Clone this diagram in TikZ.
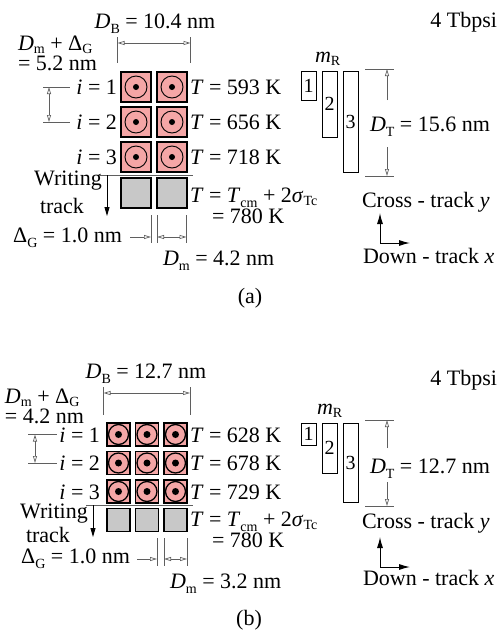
\documentclass[tikz,border=0pt]{standalone}
\usepackage{fontspec}
\setmainfont{Liberation Serif}
\usetikzlibrary{arrows.meta}
\definecolor{cellpink}{RGB}{244,166,166}
\definecolor{cellgray}{RGB}{200,200,200}
\definecolor{dimgray}{RGB}{95,95,95}
\newcommand{\sbs}[1]{\raisebox{-5pt}{\fontsize{14}{14}\selectfont #1}}
\newcommand{\sbh}[1]{\raisebox{-3pt}{\fontsize{14}{14}\selectfont #1}}
\newcommand{\vv}[1]{\textit{#1}}
\begin{document}
\begin{tikzpicture}[x=1pt,y=-1pt,
  every node/.style={inner sep=0pt, outer sep=0pt, font=\fontsize{22}{26}\selectfont},
  lbl/.style={},
  cellA/.style={draw, line width=1.1pt, fill=cellpink, minimum size=30pt},
  cellB/.style={draw, line width=1.1pt, fill=cellpink, minimum size=23pt},
  grayA/.style={draw, line width=1.1pt, fill=cellgray, minimum size=30pt},
  grayB/.style={draw, line width=1.1pt, fill=cellgray, minimum size=23pt},
  ring/.style={line width=0.9pt},
  mbox/.style={draw, line width=0.9pt, minimum width=15pt, anchor=north west, font=\fontsize{20}{22}\selectfont},
  extline/.style={draw=dimgray, line width=0.7pt},
  dimarrow/.style={draw=dimgray, line width=0.7pt, -{Triangle[open,length=7pt,width=4pt]}},
  dimboth/.style={draw=dimgray, line width=0.7pt, {Triangle[open,length=7pt,width=4pt]}-{Triangle[open,length=7pt,width=4pt]}},
  sepline/.style={draw=dimgray, line width=0.7pt},
  blkarrow/.style={draw=black, line width=0.8pt, -{Triangle[length=9pt,width=5pt]}},
  axarrow/.style={draw=black, line width=1pt, -{Latex[length=11pt,width=6pt]}}
]
\useasboundingbox (0,0) rectangle (498,635);

% ================= Panel (a) =================
\node[lbl, anchor=base] (aDB) at (155,28) {\vv{D}\sbs{B} = 10.4 nm};
\node[lbl, anchor=base east] (aTb) at (497,27) {4 Tbpsi};
\node[lbl, anchor=base west] (aDmG1) at (18,50) {\vv{D}\sbh{m} + Δ\sbh{G}};
\node[lbl, anchor=base west] (aDmG2) at (18,70) {= 5.2 nm};

% cells
\foreach \r/\y in {1/87,2/122,3/157}{
  \foreach \c/\x in {1/136,2/172}{
    \node[cellA] (a\r\c) at (\x,\y) {};
    \draw[ring] (a\r\c.center) circle (11pt);
    \fill (a\r\c.center) circle (3pt);
  }
}
\node[grayA] (ag1) at (136,193) {};
\node[grayA] (ag2) at (172,193) {};

% row labels
\node[lbl, anchor=base east] (ai1) at (117,94.5) {\vv{i} = 1};
\node[lbl, anchor=base east] (ai2) at (117,129.5) {\vv{i} = 2};
\node[lbl, anchor=base east] (ai3) at (117,164.5) {\vv{i} = 3};
\node[lbl, anchor=base west] (aT1) at (190,94.5) {\vv{T} = 593 K};
\node[lbl, anchor=base west] (aT2) at (190,129.5) {\vv{T} = 656 K};
\node[lbl, anchor=base west] (aT3) at (190,164.5) {\vv{T} = 718 K};
\node[lbl, anchor=base west] (aT4) at (190,202) {\vv{T} = \vv{T}\sbs{cm} + 2\vv{σ}\sbh{Tc}};
\node[lbl, anchor=base west] (aT5) at (212,223) {= 780 K};

% D_B dimension
\coordinate (aDBl1) at (117.5,37); \coordinate (aDBl2) at (117.5,63);
\coordinate (aDBr1) at (190.5,37); \coordinate (aDBr2) at (190.5,63);
\coordinate (aDBal) at (117.5,43); \coordinate (aDBar) at (190.5,43);
\draw[extline] (aDBl1) -- (aDBl2);
\draw[extline] (aDBr1) -- (aDBr2);
\draw[dimboth] (aDBal) -- (aDBar);

% left pitch dimension
\coordinate (aPt1) at (43,87); \coordinate (aPt2) at (70,87);
\coordinate (aPb1) at (43,122); \coordinate (aPb2) at (70,122);
\coordinate (aPat) at (49,87); \coordinate (aPab) at (49,122);
\draw[extline] (aPt1) -- (aPt2);
\draw[extline] (aPb1) -- (aPb2);
\draw[dimboth] (aPat) -- (aPab);

% separator and writing track
\coordinate (aS1) at (100,175); \coordinate (aS2) at (193,175);
\draw[sepline] (aS1) -- (aS2);
\coordinate (aW1) at (107,175); \coordinate (aW2) at (107,216);
\draw[blkarrow] (aW1) -- (aW2);
\node[lbl, anchor=base] (aWr) at (68,185) {Writing};
\node[lbl, anchor=base] (aTr) at (62,213) {track};

% Delta_G and D_m dimensions
\coordinate (aE1t) at (151,215); \coordinate (aE1b) at (151,243);
\coordinate (aE2t) at (157,215); \coordinate (aE2b) at (157,243);
\coordinate (aE3t) at (186.5,215); \coordinate (aE3b) at (186.5,243);
\draw[extline] (aE1t) -- (aE1b);
\draw[extline] (aE2t) -- (aE2b);
\draw[extline] (aE3t) -- (aE3b);
\coordinate (aGs) at (130,237); \coordinate (aGe) at (151,237);
\draw[dimarrow] (aGs) -- (aGe);
\coordinate (aMs) at (157,237); \coordinate (aMe) at (186.5,237);
\draw[dimboth] (aMs) -- (aMe);
\node[lbl, anchor=base east] (aDG) at (122,242) {Δ\sbs{G} = 1.0 nm};
\node[lbl, anchor=base west] (aDm) at (163,265) {\vv{D}\sbs{m} = 4.2 nm};
\node[lbl, anchor=base] (acap) at (250,303) {(a)};

% readers m_R
\node[lbl, anchor=base west] (amR) at (315,62) {\vv{m}\sbh{R}};
\node[mbox, minimum height=29pt] (am1) at (301,71) {1};
\node[mbox, minimum height=66pt] (am2) at (322,71) {2};
\node[mbox, minimum height=101pt] (am3) at (343,71) {3};

% D_T dimension
\coordinate (aTt1) at (365,69); \coordinate (aTt2) at (394,69);
\coordinate (aTb1) at (365,176); \coordinate (aTb2) at (394,176);
\draw[extline] (aTt1) -- (aTt2);
\draw[extline] (aTb1) -- (aTb2);
\coordinate (aTa1) at (387,100); \coordinate (aTa2) at (387,69);
\coordinate (aTa3) at (387,147); \coordinate (aTa4) at (387,176);
\draw[dimarrow] (aTa1) -- (aTa2);
\draw[dimarrow] (aTa3) -- (aTa4);
\node[lbl, anchor=base west] (aDT) at (370,131) {\vv{D}\sbs{T} = 15.6 nm};

% axes
\node[lbl, anchor=base west] (aCy) at (362,207) {Cross - track \vv{y}};
\coordinate (aO) at (380,243); \coordinate (aOy) at (380,213); \coordinate (aOx) at (410,243);
\draw[axarrow] (aO) -- (aOy);
\draw[axarrow] (aO) -- (aOx);
\node[lbl, anchor=base west] (aDx) at (363,263) {Down - track \vv{x}};

% ================= Panel (b) =================
\node[lbl, anchor=base] (bDB) at (146,378) {\vv{D}\sbs{B} = 12.7 nm};
\node[lbl, anchor=base east] (bTb) at (497,385) {4 Tbpsi};
\node[lbl, anchor=base west] (bDmG1) at (5,403) {\vv{D}\sbh{m} + Δ\sbh{G}};
\node[lbl, anchor=base west] (bDmG2) at (5,423) {= 4.2 nm};

\foreach \r/\y in {1/434.5,2/463,3/491.5}{
  \foreach \c/\x in {1/118.5,2/147,3/175.5}{
    \node[cellB] (b\r\c) at (\x,\y) {};
    \draw[ring, line width=1.3pt] (b\r\c.center) circle (10pt);
    \fill (b\r\c.center) circle (3.5pt);
  }
}
\node[grayB] (bg1) at (118.5,520) {};
\node[grayB] (bg2) at (147,520) {};
\node[grayB] (bg3) at (175.5,520) {};

\node[lbl, anchor=base east] (bi1) at (100,442) {\vv{i} = 1};
\node[lbl, anchor=base east] (bi2) at (100,470.5) {\vv{i} = 2};
\node[lbl, anchor=base east] (bi3) at (100,499) {\vv{i} = 3};
\node[lbl, anchor=base west] (bT1) at (190,442) {\vv{T} = 628 K};
\node[lbl, anchor=base west] (bT2) at (190,470.5) {\vv{T} = 678 K};
\node[lbl, anchor=base west] (bT3) at (190,499) {\vv{T} = 729 K};
\node[lbl, anchor=base west] (bT4) at (190,526) {\vv{T} = \vv{T}\sbs{cm} + 2\vv{σ}\sbh{Tc}};
\node[lbl, anchor=base west] (bT5) at (212,547) {= 780 K};

\coordinate (bDBl1) at (103.5,387); \coordinate (bDBl2) at (103.5,415);
\coordinate (bDBr1) at (190,387); \coordinate (bDBr2) at (190,415);
\coordinate (bDBal) at (103.5,393); \coordinate (bDBar) at (190,393);
\draw[extline] (bDBl1) -- (bDBl2);
\draw[extline] (bDBr1) -- (bDBr2);
\draw[dimboth] (bDBal) -- (bDBar);

\coordinate (bPt1) at (28,434.5); \coordinate (bPt2) at (57,434.5);
\coordinate (bPb1) at (28,463); \coordinate (bPb2) at (57,463);
\coordinate (bPat) at (35,434.5); \coordinate (bPab) at (35,463);
\draw[extline] (bPt1) -- (bPt2);
\draw[extline] (bPb1) -- (bPb2);
\draw[dimboth] (bPat) -- (bPab);

\coordinate (bS1) at (86,505); \coordinate (bS2) at (193,505);
\draw[sepline] (bS1) -- (bS2);
\coordinate (bW1) at (93,505); \coordinate (bW2) at (93,537);
\draw[blkarrow] (bW1) -- (bW2);
\node[lbl, anchor=base] (bWr) at (54,518) {Writing};
\node[lbl, anchor=base] (bTr) at (48,542) {track};

\coordinate (bE1t) at (157,538); \coordinate (bE1b) at (157,566);
\coordinate (bE2t) at (164,538); \coordinate (bE2b) at (164,566);
\coordinate (bE3t) at (187,538); \coordinate (bE3b) at (187,566);
\draw[extline] (bE1t) -- (bE1b);
\draw[extline] (bE2t) -- (bE2b);
\draw[extline] (bE3t) -- (bE3b);
\coordinate (bGs) at (137,559); \coordinate (bGe) at (157,559);
\draw[dimarrow] (bGs) -- (bGe);
\coordinate (bMs) at (164,559); \coordinate (bMe) at (187,559);
\draw[dimboth] (bMs) -- (bMe);
\node[lbl, anchor=base east] (bDG) at (130,563) {Δ\sbs{G} = 1.0 nm};
\node[lbl, anchor=base west] (bDm) at (170,588) {\vv{D}\sbs{m} = 3.2 nm};
\node[lbl, anchor=base] (bcap) at (249,625) {(b)};

\node[lbl, anchor=base west] (bmR) at (317,414) {\vv{m}\sbh{R}};
\node[mbox, minimum height=22pt] (bm1) at (301,423) {1};
\node[mbox, minimum height=50pt] (bm2) at (322,423) {2};
\node[mbox, minimum height=79pt] (bm3) at (343,423) {3};

\coordinate (bTt1) at (365,420); \coordinate (bTt2) at (394,420);
\coordinate (bTb1) at (365,506); \coordinate (bTb2) at (394,506);
\draw[extline] (bTt1) -- (bTt2);
\draw[extline] (bTb1) -- (bTb2);
\coordinate (bTa1) at (387,448); \coordinate (bTa2) at (387,420);
\coordinate (bTa3) at (387,482); \coordinate (bTa4) at (387,506);
\draw[dimarrow] (bTa1) -- (bTa2);
\draw[dimarrow] (bTa3) -- (bTa4);
\node[lbl, anchor=base west] (bDT) at (370,473) {\vv{D}\sbs{T} = 12.7 nm};

\node[lbl, anchor=base west] (bCy) at (362,528) {Cross - track \vv{y}};
\coordinate (bO) at (380,567); \coordinate (bOy) at (380,537); \coordinate (bOx) at (410,567);
\draw[axarrow] (bO) -- (bOy);
\draw[axarrow] (bO) -- (bOx);
\node[lbl, anchor=base west] (bDx) at (363,585) {Down - track \vv{x}};
\end{tikzpicture}
\end{document}
